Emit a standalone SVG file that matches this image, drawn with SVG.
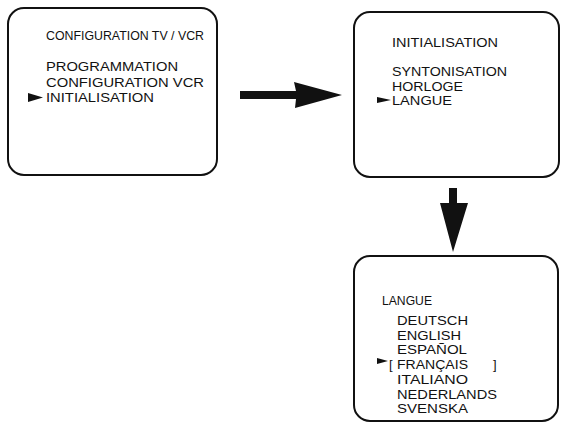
<svg xmlns="http://www.w3.org/2000/svg" width="562" height="423" viewBox="0 0 562 423">
<style>
.box{fill:#fff;stroke:#111;stroke-width:2}
text{font-family:"Liberation Sans",Arial,sans-serif;font-size:13px;fill:#111}
.m{fill:#111}
</style>
<rect width="562" height="423" fill="#fff"/>
<g id="screen1">
<rect class="box" x="8" y="8" width="209" height="167" rx="16"/>
<text x="46" y="40" textLength="158" lengthAdjust="spacingAndGlyphs">CONFIGURATION TV / VCR</text>
<text x="46" y="71" textLength="132" lengthAdjust="spacingAndGlyphs">PROGRAMMATION</text>
<text x="46" y="87" textLength="158" lengthAdjust="spacingAndGlyphs">CONFIGURATION VCR</text>
<polygon class="m" points="28,93 28,102 43,97.5"/>
<text x="46" y="102" textLength="108" lengthAdjust="spacingAndGlyphs">INITIALISATION</text>
</g>
<g id="screen2">
<rect class="box" x="354" y="12" width="205" height="165" rx="16"/>
<text x="392" y="47" textLength="106" lengthAdjust="spacingAndGlyphs">INITIALISATION</text>
<text x="392" y="76" textLength="115" lengthAdjust="spacingAndGlyphs">SYNTONISATION</text>
<text x="392" y="91" textLength="71" lengthAdjust="spacingAndGlyphs">HORLOGE</text>
<polygon class="m" points="377,97 377,103 391,100"/>
<text x="392" y="105" textLength="60" lengthAdjust="spacingAndGlyphs">LANGUE</text>
</g>
<g id="screen3">
<rect class="box" x="354" y="256" width="204" height="165" rx="16"/>
<text x="382" y="305" textLength="50" lengthAdjust="spacingAndGlyphs">LANGUE</text>
<text x="397" y="325" textLength="71" lengthAdjust="spacingAndGlyphs">DEUTSCH</text>
<text x="397" y="340" textLength="64" lengthAdjust="spacingAndGlyphs">ENGLISH</text>
<text x="397" y="354" textLength="70" lengthAdjust="spacingAndGlyphs">ESPAÑOL</text>
<polygon class="m" points="377,358 377,364 388,361"/>
<text x="389" y="369">[</text>
<text x="397" y="369" textLength="71" lengthAdjust="spacingAndGlyphs">FRANÇAIS</text>
<text x="493" y="369">]</text>
<text x="397" y="384" textLength="71" lengthAdjust="spacingAndGlyphs">ITALIANO</text>
<text x="397" y="399" textLength="100" lengthAdjust="spacingAndGlyphs">NEDERLANDS</text>
<text x="397" y="413" textLength="71" lengthAdjust="spacingAndGlyphs">SVENSKA</text>
</g>
<g id="connectors">
<polygon class="m" points="240,91 296,91 294,82 342,95 295,108 296,99 240,99"/>
<polygon class="m" points="449,188 457,188 457,203 468,203 453,252 440,203 449,203"/>
</g>
</svg>
